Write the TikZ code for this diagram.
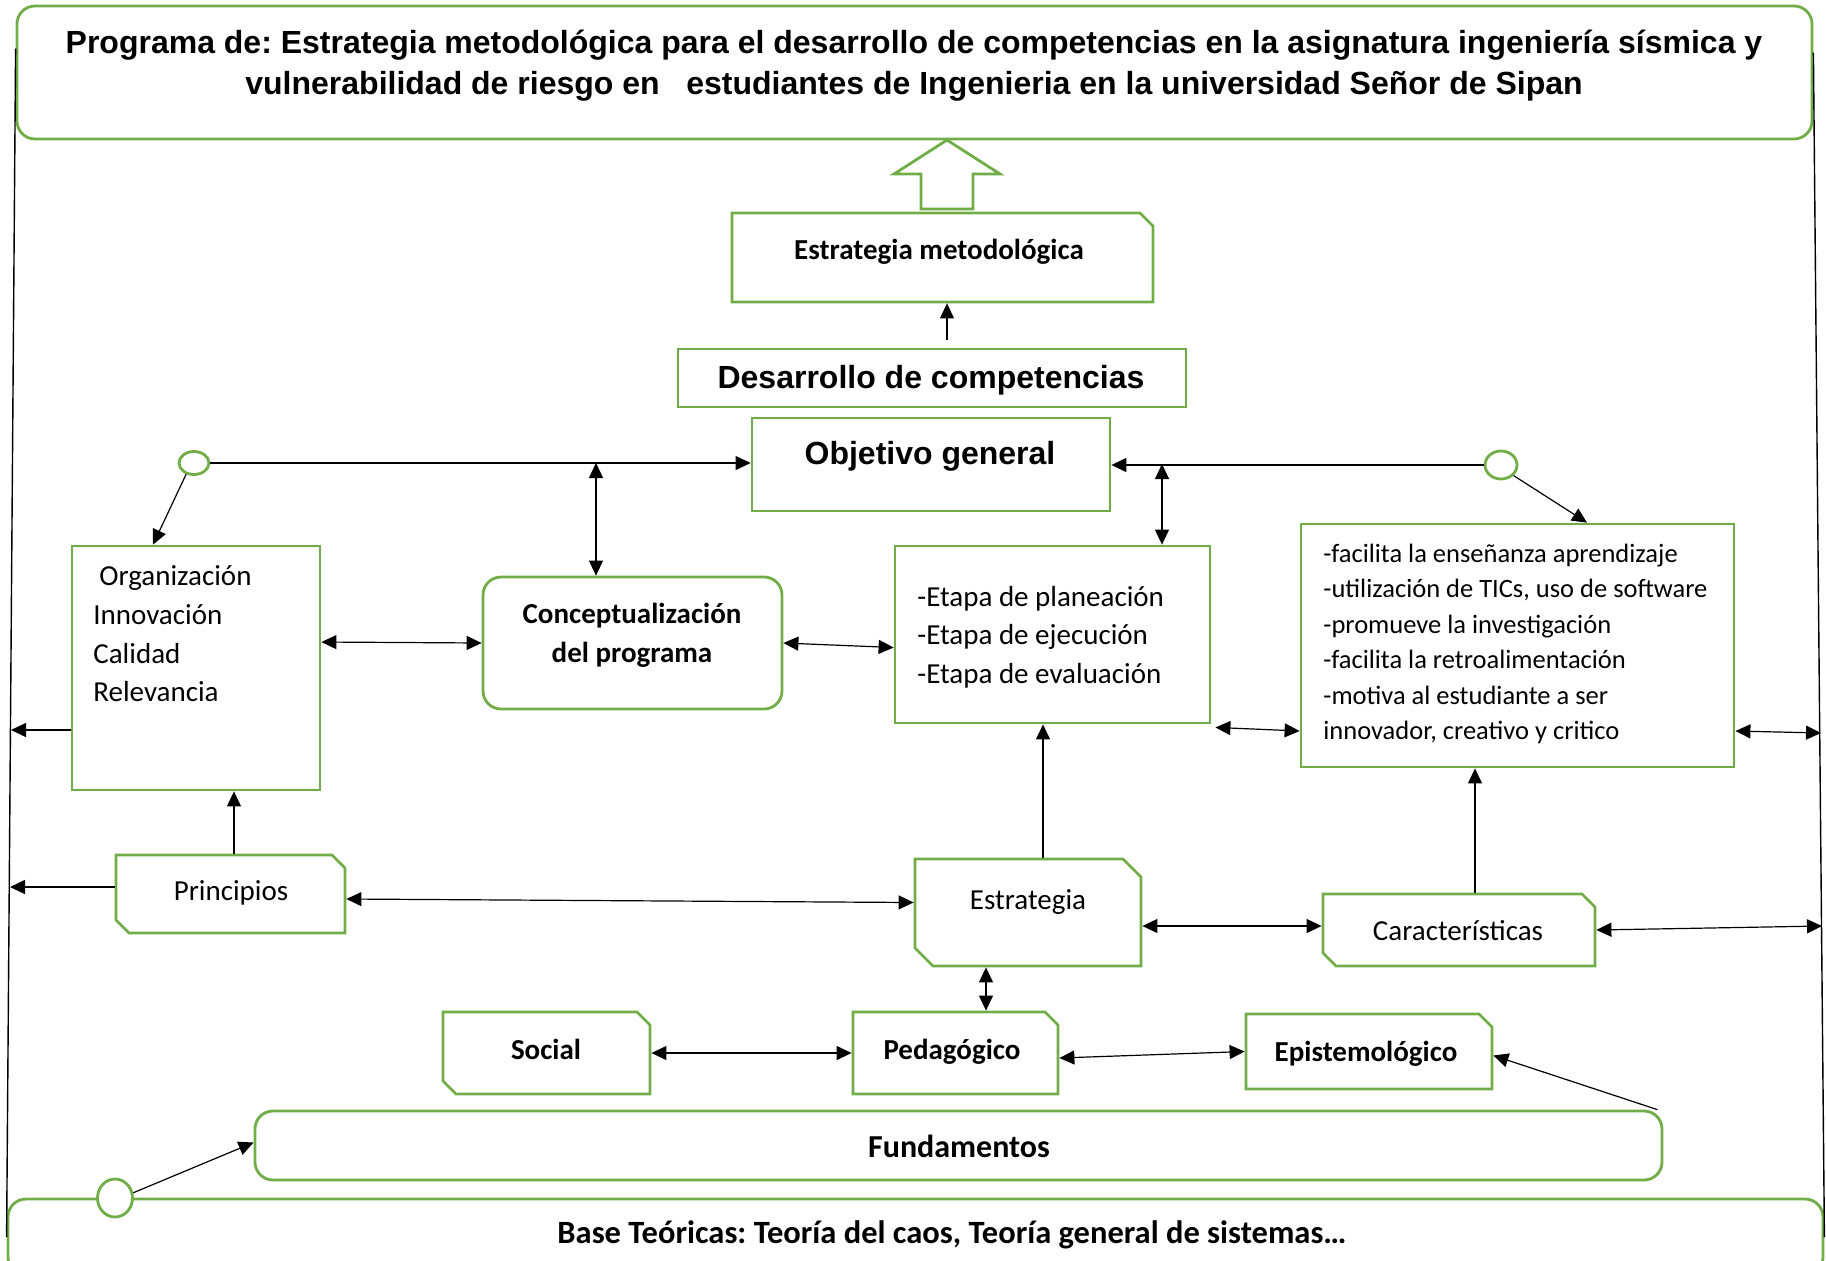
\documentclass[tikz,border=0pt]{standalone}
\usepackage{fontspec}
\setmainfont{Carlito}
\newfontfamily\arialfont{Liberation Sans}
\usetikzlibrary{arrows.meta,fit,shapes.geometric,shapes.misc}
\definecolor{grn}{RGB}{112,173,71}
\frenchspacing

\begin{document}
\begin{tikzpicture}[x=0.5pt,y=-0.5pt,
  gbox/.style={draw=grn,line width=1.4pt,inner sep=0pt},
  rbox/.style={gbox,rounded corners=9pt},
  sbox/.style={gbox,chamfered rectangle,chamfered rectangle corners=north east,chamfered rectangle sep=3.25pt},
  ssbox/.style={sbox,chamfered rectangle corners={north east,south west}},
  gdot/.style={gbox,ellipse,fill=white},
  lnk/.style={line width=0.6pt,-{Triangle[length=7.5pt,width=7pt]}},
  dbl/.style={lnk,{Triangle[length=7.5pt,width=7pt]}-{Triangle[length=7.5pt,width=7pt]}},
  txt/.style={inner sep=0pt,font=\fontsize{14.5}{19.3}\selectfont},
  btxt/.style={inner sep=0pt,font=\bfseries\fontsize{14.5}{19.3}\selectfont},
  bbtxt/.style={inner sep=0pt,font=\bfseries\fontsize{16}{20}\selectfont},
  atxt/.style={inner sep=0pt,font=\arialfont\bfseries\fontsize{16}{20}\selectfont}]
\useasboundingbox (0,0) rectangle (1826,1260);
\node[rbox,fit={(17,6) (1812,139)}] (ttl) {};
\node[inner sep=0pt,align=center,font=\arialfont\bfseries\fontsize{16}{20.5}\selectfont] (ttl-t) at (914,66) {Programa de: Estrategia metodológica para el desarrollo de competencias en la asignatura ingeniería sísmica y\\vulnerabilidad de riesgo en \ \ estudiantes de Ingenieria en la universidad Señor de Sipan};
\draw[draw=grn,line width=1.4pt,fill=white] (921,209) -- (921,174) -- (894,174) -- (947,140) -- (1000,174) -- (973,174) -- (973,209) -- cycle;
\node[sbox,fit={(738.5,219.5) (1146.5,295.5)}] (metod) {};
\node[btxt] (metod-t) at (939,252) {Estrategia metodológica};
\node[gbox,fit={(678,349) (1186,407)}] (desa) {};
\node[atxt] (desa-t) at (931,380) {Desarrollo de competencias};
\node[gbox,fit={(752,418) (1110,511)}] (obj) {};
\node[atxt] (obj-t) at (930,456) {Objetivo general};
\node[gdot,minimum width=15pt,minimum height=11.5pt] (c1) at (194,463) {};
\node[gdot,minimum width=16pt,minimum height=14pt] (c2) at (1501,465) {};
\node[gbox,fit={(72,546) (320,790)}] (org) {};
\node[txt,align=left,anchor=west] (org-t) at (93,634) {\hspace*{3pt}Organización\\Innovación\\Calidad\\Relevancia};
\node[rbox,fit={(483,577) (782,709)}] (cpt) {};
\node[btxt,align=center] (cpt-t) at (632,635) {Conceptualización\\del programa};
\node[gbox,fit={(895,546) (1210,723)}] (eta) {};
\node[txt,align=left,anchor=west] (eta-t) at (917,637) {-Etapa de planeación\\-Etapa de ejecución\\-Etapa de evaluación};
\node[gbox,fit={(1301,524) (1734,767)}] (rasgos) {};
\node[inner sep=0pt,align=left,anchor=west,font=\fontsize{13.25}{17.7}\selectfont] (rasgos-t) at (1323,644) {-facilita la enseñanza aprendizaje\\-utilización de TICs, uso de software\\-promueve la investigación\\-facilita la retroalimentación\\-motiva al estudiante a ser\\innovador, creativo y critico};
\node[ssbox,fit={(122.5,861.5) (338.5,926.5)}] (prin) {};
\node[txt] (prin-t) at (231,893) {Principios};
\node[ssbox,chamfered rectangle sep=4.5pt,fit={(924,868) (1132,957)}] (est) {};
\node[txt] (est-t) at (1028,902) {Estrategia};
\node[ssbox,fit={(1329.5,900.5) (1588.5,959.5)}] (carac) {};
\node[txt] (carac-t) at (1458,931) {Características};
\node[ssbox,fit={(449.5,1018.5) (643.5,1087.5)}] (soc) {};
\node[btxt] (soc-t) at (546,1049) {Social};
\node[sbox,fit={(859.5,1018.5) (1051.5,1087.5)}] (ped) {};
\node[btxt] (ped-t) at (952,1052) {Pedagógico};
\node[sbox,fit={(1252.5,1020.5) (1485.5,1082.5)}] (epi) {};
\node[btxt] (epi-t) at (1366,1054) {Epistemológico};
\node[rbox,fit={(255,1111) (1662,1180)}] (fun) {};
\node[bbtxt] (fun-t) at (959,1146) {Fundamentos};
\node[rbox,fit={(8,1199) (1823,1275)}] (base) {};
\node[bbtxt,font=\bfseries\fontsize{16.25}{20}\selectfont] (base-t) at (952,1235) {Base Teóricas: Teoría del caos, Teoría general de sistemas…};
\node[gdot,minimum width=17.5pt,minimum height=19pt] (c3) at (115,1198) {};
\coordinate (j1) at (596,463);
\coordinate (j2) at (1162,464);
\coordinate (l1) at (11,730);
\coordinate (l2) at (10,887);
\coordinate (r1) at (1821,733);
\coordinate (r2) at (1822,926);
\draw[line width=0.7pt] ([yshift=12pt]ttl.west) -- (base.west);
\draw[line width=0.7pt] ([yshift=10pt]ttl.east) -- (base.east);
\draw[lnk] ([xshift=7.5pt,yshift=4pt]desa.north) -- ([xshift=7.5pt]desa.north |- metod.south);
\draw[lnk] (c1.east) -- (c1.east -| obj.west);
\draw[dbl] (j1) -- (j1 |- cpt.north);
\draw[lnk] (c1.-125) -- ([xshift=-21.5pt]org.north);
\draw[dbl] ([yshift=13pt]org.east) -- (cpt.west);
\draw[dbl] (cpt.east) -- ([yshift=-6.5pt]eta.west);
\draw[dbl] (j2) -- (j2 |- eta.north);
\draw[lnk] (c2.west) -- (c2.west -| obj.east);
\draw[lnk] (c2.-40) -- ([xshift=34.75pt]rasgos.north);
\draw[dbl] ([xshift=2pt,yshift=-1.5pt]eta.south east) -- ([yshift=-42.75pt]rasgos.west);
\draw[dbl] ([yshift=-42.75pt]rasgos.east) -- (r1);
\draw[lnk] ([yshift=-31pt]org.west) -- (l1);
\draw[lnk] ([yshift=3.5pt]prin.west) -- (l2);
\draw[lnk] ([xshift=1.75pt]prin.north) -- ([xshift=1.75pt]prin.north |- org.south);
\draw[dbl] ([yshift=-2.5pt]prin.east) -- ([yshift=5pt]est.west);
\draw[lnk] ([xshift=7.5pt]est.north) -- ([xshift=7.5pt]est.north |- eta.south);
\draw[dbl] ([yshift=-6.75pt]est.east) -- ([yshift=-6.75pt]est.east -| carac.west);
\draw[lnk] ([xshift=8pt]carac.north) -- ([xshift=8pt]carac.north |- rasgos.south);
\draw[dbl] (carac.east) -- (r2);
\draw[dbl] ([xshift=-21pt]est.south) -- ([xshift=-21pt]est.south |- ped.north);
\draw[dbl] (soc.east) -- (ped.west);
\draw[dbl] ([yshift=-2.5pt]ped.east) -- (epi.west);
\draw[lnk] ([xshift=-3pt]fun.north east) -- ([yshift=-2pt]epi.east);
\draw[lnk] (c3.16) -- ([yshift=1.5pt]fun.west);
\end{tikzpicture}
\end{document}
